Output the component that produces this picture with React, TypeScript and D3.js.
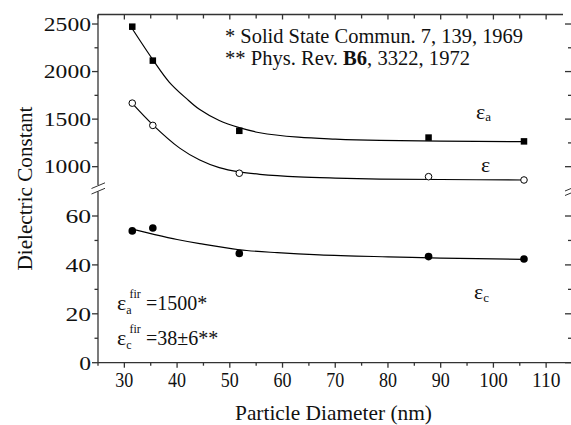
import React from "react";
import * as d3 from "d3";

const W = 571;
const H = 425;

// particle diameters (nm)
const diameters = [31.5, 35.4, 51.8, 87.7, 105.8];
// measured dielectric constants
const epsA = [2472, 2115, 1377, 1306, 1266];
const epsAvg = [1668, 1434, 931, 895, 860];
const epsC = [53.9, 55.1, 44.7, 43.4, 42.4];

// fitted curves
const fitX = [31.5, 35.4, 38.5, 41.8, 44.3, 48, 51.8, 55.7, 63, 70, 78.5, 90, 105.8];
const fitA = [2450, 2125, 1890, 1715, 1600, 1485, 1410, 1357, 1310, 1290, 1276, 1268, 1263];
const fitAvgX = [31.5, 35.4, 40.5, 44.3, 48, 51.8, 55.7, 63, 70, 78.5, 90, 105.8];
const fitAvg = [1665, 1440, 1195, 1070, 990, 945, 920, 893, 880, 870, 865, 860];
const fitCX = [31.5, 35.4, 40, 44.3, 51.8, 59, 67, 80, 90, 105.8];
const fitC = [54.6, 52.6, 50.4, 48.7, 46.2, 45.0, 44.1, 43.3, 42.8, 42.3];

// ticks
const xMajor = [30, 40, 50, 60, 70, 80, 90, 100, 110];
const xMinor = [25, 35, 45, 55, 65, 75, 85, 95, 105];
const yTopMajor = [1000, 1500, 2000, 2500];
const yTopMinor = [1250, 1750, 2250];
const yBotMajor = [0, 20, 40, 60];
const yBotMinor = [10, 30, 50];

const FONT = "Liberation Serif, Times New Roman, Times, serif";
const AX = "#333";

export default function App() {
  const L = 98;
  const x = d3.scaleLinear().domain([25, 113.2]).range([L, 563]);
  const yTop = d3.scaleLinear().domain([800, 2600]).range([185.7, 14.5]);
  const yBot = d3.scaleLinear().domain([0, 70]).range([362.7, 191.55]);
  const bottom = yBot(0);
  const topY = yTop(2600);
  const RX = 571;

  const lineTop = d3
    .line<[number, number]>()
    .x((d) => x(d[0]))
    .y((d) => yTop(d[1]))
    .curve(d3.curveCatmullRom.alpha(0.5));
  const lineBot = d3
    .line<[number, number]>()
    .x((d) => x(d[0]))
    .y((d) => yBot(d[1]))
    .curve(d3.curveCatmullRom.alpha(0.5));

  const pathA = lineTop(fitX.map((v, i) => [v, fitA[i]]) as [number, number][]) || "";
  const pathAvg = lineTop(fitAvgX.map((v, i) => [v, fitAvg[i]]) as [number, number][]) || "";
  const pathC = lineBot(fitCX.map((v, i) => [v, fitC[i]]) as [number, number][]) || "";

  const sq = 6.5;
  const xLabelLen = (v: number) => (String(v).length === 3 ? 28.5 : 18);
  const yLabelLen = (v: number) => String(v).length * 11.8;

  return (
    <svg
      width={W}
      height={H}
      viewBox={`0 0 ${W} ${H}`}
      style={{ position: "absolute", left: 0, top: 0, background: "#fff", fontFamily: FONT }}
    >
      <rect x={0} y={0} width={W} height={H} fill="#fff" />
      {/* axes */}
      <g stroke={AX} strokeWidth={1.3} fill="none">
        <line x1={L} x2={L} y1={topY} y2={185} />
        <line x1={L} x2={L} y1={191.5} y2={bottom} />
        <line x1={L} x2={RX} y1={bottom} y2={bottom} />
        <line x1={L} x2={563} y1={topY} y2={topY} />
        {/* break marks */}
        <line x1={91.5} y1={188.5} x2={105} y2={182.8} strokeWidth={1} />
        <line x1={91.5} y1={194} x2={105} y2={188.3} strokeWidth={1} />
        <line x1={565} y1={191} x2={571} y2={188.5} strokeWidth={1} />
        <line x1={565} y1={195.5} x2={571} y2={193} strokeWidth={1} />
        {/* x ticks */}
        {xMajor.map((v) => (
          <g key={"xm" + v}>
            <line x1={x(v)} x2={x(v)} y1={bottom} y2={bottom + 5} />
            <line x1={x(v)} x2={x(v)} y1={topY} y2={topY + 5} />
          </g>
        ))}
        {xMinor.map((v) => (
          <g key={"xn" + v}>
            <line x1={x(v)} x2={x(v)} y1={bottom} y2={bottom + 3} />
            <line x1={x(v)} x2={x(v)} y1={topY} y2={topY + 4} />
          </g>
        ))}
        {/* y ticks */}
        {yTopMajor.map((v) => (
          <g key={"ytm" + v}>
            <line x1={L - 6} x2={L} y1={yTop(v)} y2={yTop(v)} />
            <line x1={RX - 6} x2={RX} y1={yTop(v)} y2={yTop(v)} />
          </g>
        ))}
        {yTopMinor.map((v) => (
          <g key={"ytn" + v}>
            <line x1={L - 3.5} x2={L} y1={yTop(v)} y2={yTop(v)} />
            <line x1={RX - 3} x2={RX} y1={yTop(v)} y2={yTop(v)} />
          </g>
        ))}
        {yBotMajor.map((v) => (
          <g key={"ybm" + v}>
            <line x1={L - 6} x2={L} y1={yBot(v)} y2={yBot(v)} />
            <line x1={RX - 6} x2={RX} y1={yBot(v)} y2={yBot(v)} />
          </g>
        ))}
        {yBotMinor.map((v) => (
          <g key={"ybn" + v}>
            <line x1={L - 3.5} x2={L} y1={yBot(v)} y2={yBot(v)} />
            <line x1={RX - 3} x2={RX} y1={yBot(v)} y2={yBot(v)} />
          </g>
        ))}
      </g>

      {/* tick labels */}
      <g fill="#111" style={{ fontFamily: FONT }}>
        {xMajor.map((v) => (
          <text
            key={"xl" + v}
            x={x(v)}
            y={387}
            fontSize={20}
            textAnchor="middle"
            textLength={xLabelLen(v)}
            lengthAdjust="spacingAndGlyphs"
          >
            {v}
          </text>
        ))}
        {yTopMajor.map((v) => (
          <text
            key={"ytl" + v}
            x={91}
            y={yTop(v) + 6.8}
            fontSize={19.5}
            textAnchor="end"
            textLength={yLabelLen(v)}
            lengthAdjust="spacingAndGlyphs"
          >
            {v}
          </text>
        ))}
        {yBotMajor.map((v) => (
          <text
            key={"ybl" + v}
            x={91}
            y={yBot(v) + 6.8}
            fontSize={19.5}
            textAnchor="end"
            textLength={yLabelLen(v) + (v === 0 ? 0 : 2)}
            lengthAdjust="spacingAndGlyphs"
          >
            {v}
          </text>
        ))}
      </g>

      {/* axis titles */}
      <text
        x={333.5}
        y={420}
        fontSize={21}
        textAnchor="middle"
        fill="#111"
        textLength={197}
        lengthAdjust="spacingAndGlyphs"
        style={{ fontFamily: FONT }}
      >
        Particle Diameter (nm)
      </text>
      <text
        transform="translate(32,188.5) rotate(-90)"
        fontSize={21}
        textAnchor="middle"
        fill="#111"
        textLength={164}
        lengthAdjust="spacingAndGlyphs"
        style={{ fontFamily: FONT }}
      >
        Dielectric Constant
      </text>

      {/* fit curves */}
      <g fill="none" stroke="#000" strokeWidth={1.2}>
        <path d={pathA} />
        <path d={pathAvg} />
        <path d={pathC} />
      </g>

      {/* markers */}
      {diameters.map((d, i) => (
        <rect
          key={"a" + i}
          x={x(d) - sq / 2}
          y={yTop(epsA[i]) - sq / 2}
          width={sq}
          height={sq}
          fill="#000"
        />
      ))}
      {diameters.map((d, i) => (
        <circle
          key={"e" + i}
          cx={x(d)}
          cy={yTop(epsAvg[i])}
          r={3.3}
          fill="#fff"
          stroke="#000"
          strokeWidth={1}
        />
      ))}
      {diameters.map((d, i) => (
        <circle key={"c" + i} cx={x(d)} cy={yBot(epsC[i])} r={3.8} fill="#000" />
      ))}

      {/* series labels */}
      <g fill="#111" style={{ fontFamily: FONT }}>
        <text x={476} y={118.5}>
          <tspan fontSize={22}>ε</tspan>
          <tspan fontSize={13} dy={2.5}>a</tspan>
        </text>
        <text x={481} y={171.5} fontSize={22}>ε</text>
        <text x={474} y={299}>
          <tspan fontSize={22}>ε</tspan>
          <tspan fontSize={13} dy={2.5}>c</tspan>
        </text>
      </g>

      {/* references */}
      <g fill="#111" fontSize={20} style={{ fontFamily: FONT }}>
        <text x={225} y={43} textLength={298} lengthAdjust="spacingAndGlyphs">
          * Solid State Commun. 7, 139, 1969
        </text>
        <text x={225} y={65} textLength={245} lengthAdjust="spacingAndGlyphs">
          ** Phys. Rev. <tspan fontWeight="bold">B6</tspan>, 3322, 1972
        </text>
      </g>

      {/* far-infrared values */}
      <g fill="#111" style={{ fontFamily: FONT }}>
        <text x={117} y={310}>
          <tspan fontSize={22}>ε</tspan>
          <tspan fontSize={12} dy={4}>a</tspan>
        </text>
        <text x={129.5} y={298}>
          <tspan fontSize={12}>fir</tspan>
        </text>
        <text x={146} y={310} fontSize={20}>=1500*</text>
        <text x={117} y={344.5}>
          <tspan fontSize={22}>ε</tspan>
          <tspan fontSize={12} dy={4}>c</tspan>
        </text>
        <text x={129.5} y={332.5}>
          <tspan fontSize={12}>fir</tspan>
        </text>
        <text x={146} y={344.5} fontSize={20}>=38±6**</text>
      </g>
    </svg>
  );
}
